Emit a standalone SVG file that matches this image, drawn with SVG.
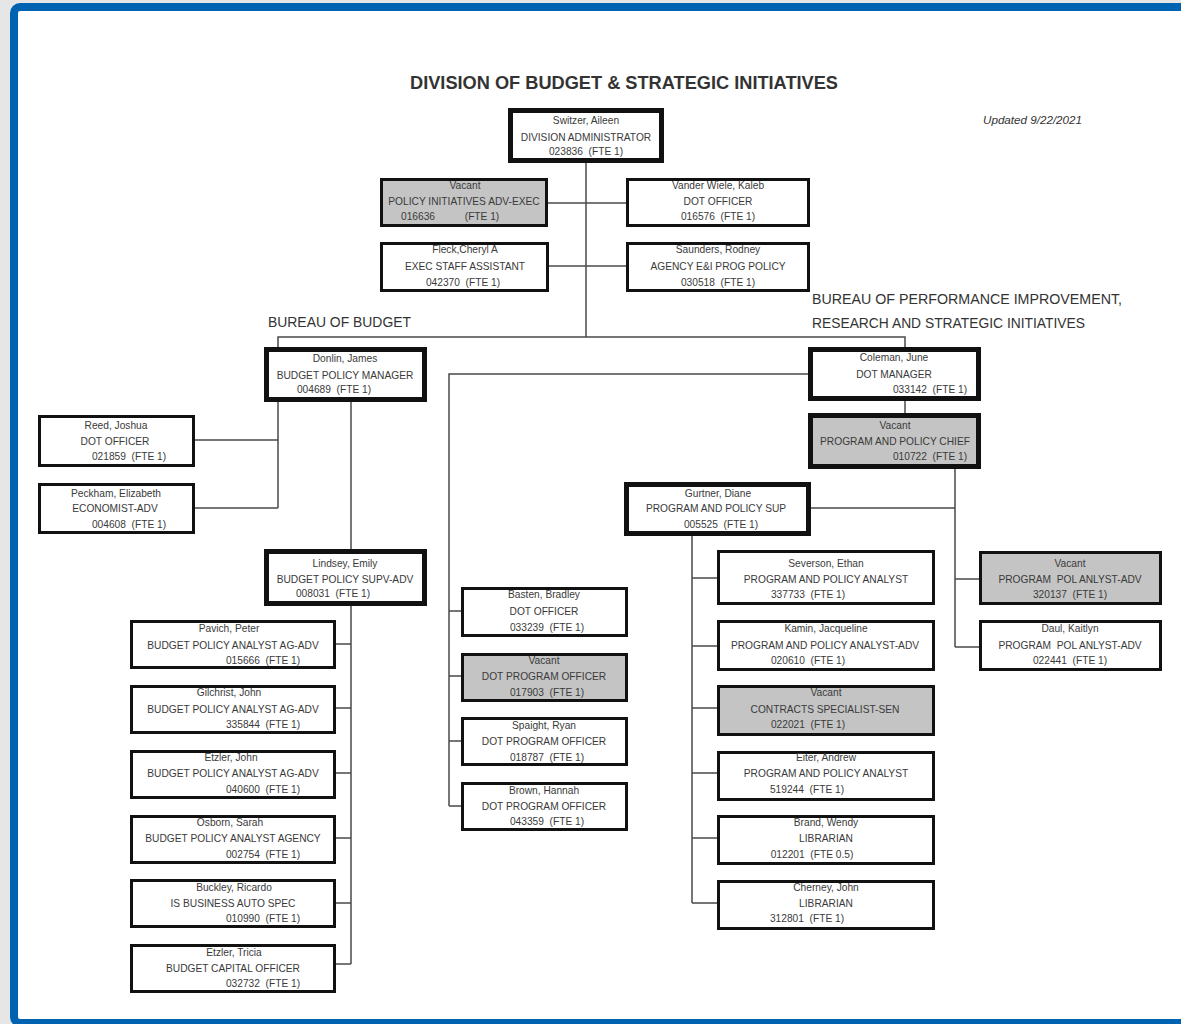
<svg xmlns="http://www.w3.org/2000/svg" width="1181" height="1024" viewBox="0 0 1181 1024">
<defs>
<style>
.box{fill:#fff;stroke:#111;stroke-width:3}
.thick{stroke-width:5}
.vac{fill:#c4c4c4}
.t{font-family:"Liberation Sans",Arial,sans-serif;font-size:10.2px;fill:#3a3a3a;text-anchor:middle;white-space:pre}
.c{stroke:#4a4a4a;stroke-width:1.5;fill:none}
.hd{font-family:"Liberation Sans",Arial,sans-serif;fill:#333}
</style>
</defs>
<rect x="0" y="0" width="1181" height="1024" fill="#e6e6e6"/>
<rect x="14" y="7" width="1200" height="1016" rx="6" fill="#fff" stroke="#0063b1" stroke-width="8"/>

<text class="hd" x="410" y="89" font-size="17.5" font-weight="bold" fill="#222" textLength="428" lengthAdjust="spacingAndGlyphs">DIVISION OF BUDGET &amp; STRATEGIC INITIATIVES</text>
<text class="hd" x="983" y="124" font-size="10.5" font-style="italic" textLength="99" lengthAdjust="spacingAndGlyphs">Updated 9/22/2021</text>
<text class="hd" x="268" y="327" font-size="14" textLength="143" lengthAdjust="spacingAndGlyphs">BUREAU OF BUDGET</text>
<text class="hd" x="812" y="304" font-size="14" textLength="310" lengthAdjust="spacingAndGlyphs">BUREAU OF PERFORMANCE IMPROVEMENT,</text>
<text class="hd" x="812" y="328" font-size="14" textLength="273" lengthAdjust="spacingAndGlyphs">RESEARCH AND STRATEGIC INITIATIVES</text>

<g id="connectors">
<path class="c" d="M586 163 V337"/>
<path class="c" d="M548 203 H626"/>
<path class="c" d="M549 266 H626"/>
<path class="c" d="M278 348 V337 H905 V348"/>
<path class="c" d="M278 402 V508 M195 440 H278 M195 508 H278"/>
<path class="c" d="M351 402 V549"/>
<path class="c" d="M351 606 V964 M336 644 H351 M336 708 H351 M336 773 H351 M336 838 H351 M336 903 H351 M336 964 H351"/>
<path class="c" d="M808 374 H449 V806 M449 611 H461 M449 676 H461 M449 741 H461 M449 806 H461"/>
<path class="c" d="M905 401 V413"/>
<path class="c" d="M955 469 V647 M811 508 H955 M955 579 H979 M955 647 H979"/>
<path class="c" d="M692 536 V903 M692 578 H717 M692 646 H717 M692 708 H717 M692 773 H717 M692 838 H717 M692 903 H717"/>
</g>

<g id="n-switzer">
<rect class="box thick" x="510.5" y="110.5" width="151" height="50"/>
<text class="t" x="586" y="124">Switzer, Aileen</text>
<text class="t" x="586" y="141">DIVISION ADMINISTRATOR</text>
<text class="t" x="586" y="155">023836  (FTE 1)</text>
</g>
<g id="n-policy-vacant">
<rect class="box vac" x="381.5" y="179.5" width="165" height="46"/>
<text class="t" x="465" y="189">Vacant</text>
<text class="t" x="464" y="205">POLICY INITIATIVES ADV-EXEC</text>
<text class="t" x="418" y="220">016636</text>
<text class="t" x="482" y="220">(FTE 1)</text>
</g>
<g id="n-vanderwiele">
<rect class="box" x="627.5" y="179.5" width="181" height="46"/>
<text class="t" x="718" y="189">Vander Wiele, Kaleb</text>
<text class="t" x="718" y="205">DOT OFFICER</text>
<text class="t" x="718" y="220">016576  (FTE 1)</text>
</g>
<g id="n-fleck">
<rect class="box" x="381.5" y="243.5" width="166" height="47"/>
<text class="t" x="465" y="253">Fleck,Cheryl A</text>
<text class="t" x="465" y="270">EXEC STAFF ASSISTANT</text>
<text class="t" x="463" y="286">042370  (FTE 1)</text>
</g>
<g id="n-saunders">
<rect class="box" x="627.5" y="243.5" width="181" height="47"/>
<text class="t" x="718" y="253">Saunders, Rodney</text>
<text class="t" x="718" y="270">AGENCY E&amp;I PROG POLICY</text>
<text class="t" x="718" y="286">030518  (FTE 1)</text>
</g>

<g id="n-donlin">
<rect class="box thick" x="266.5" y="349.5" width="158" height="50"/>
<text class="t" x="345" y="362">Donlin, James</text>
<text class="t" x="345" y="379">BUDGET POLICY MANAGER</text>
<text class="t" x="334" y="393">004689  (FTE 1)</text>
</g>
<g id="n-reed">
<rect class="box" x="39.5" y="416.5" width="154" height="49"/>
<text class="t" x="116" y="429">Reed, Joshua</text>
<text class="t" x="115" y="445">DOT OFFICER</text>
<text class="t" x="129" y="460">021859  (FTE 1)</text>
</g>
<g id="n-peckham">
<rect class="box" x="39.5" y="484.5" width="154" height="48"/>
<text class="t" x="116" y="497">Peckham, Elizabeth</text>
<text class="t" x="115" y="512">ECONOMIST-ADV</text>
<text class="t" x="129" y="528">004608  (FTE 1)</text>
</g>
<g id="n-lindsey">
<rect class="box thick" x="266.5" y="551.5" width="158" height="52"/>
<text class="t" x="345" y="567">Lindsey, Emily</text>
<text class="t" x="345" y="583">BUDGET POLICY SUPV-ADV</text>
<text class="t" x="333" y="597">008031  (FTE 1)</text>
</g>

<g id="n-pavich">
<rect class="box" x="131.5" y="621.5" width="203" height="46"/>
<text class="t" x="229" y="632">Pavich, Peter</text>
<text class="t" x="233" y="649">BUDGET POLICY ANALYST AG-ADV</text>
<text class="t" x="263" y="664">015666  (FTE 1)</text>
</g>
<g id="n-gilchrist">
<rect class="box" x="131.5" y="686.5" width="203" height="46"/>
<text class="t" x="229" y="696">Gilchrist, John</text>
<text class="t" x="233" y="713">BUDGET POLICY ANALYST AG-ADV</text>
<text class="t" x="263" y="728">335844  (FTE 1)</text>
</g>
<g id="n-etzler-john">
<rect class="box" x="131.5" y="751.5" width="203" height="46"/>
<text class="t" x="231" y="761">Etzler, John</text>
<text class="t" x="233" y="777">BUDGET POLICY ANALYST AG-ADV</text>
<text class="t" x="263" y="793">040600  (FTE 1)</text>
</g>
<g id="n-osborn">
<rect class="box" x="131.5" y="816.5" width="203" height="46"/>
<text class="t" x="230" y="826">Osborn, Sarah</text>
<text class="t" x="233" y="842">BUDGET POLICY ANALYST AGENCY</text>
<text class="t" x="263" y="858">002754  (FTE 1)</text>
</g>
<g id="n-buckley">
<rect class="box" x="131.5" y="880.5" width="203" height="46"/>
<text class="t" x="234" y="891">Buckley, Ricardo</text>
<text class="t" x="233" y="907">IS BUSINESS AUTO SPEC</text>
<text class="t" x="263" y="922">010990  (FTE 1)</text>
</g>
<g id="n-etzler-tricia">
<rect class="box" x="131.5" y="945.5" width="203" height="46"/>
<text class="t" x="234" y="956">Etzler, Tricia</text>
<text class="t" x="233" y="972">BUDGET CAPITAL OFFICER</text>
<text class="t" x="263" y="987">032732  (FTE 1)</text>
</g>

<g id="n-basten">
<rect class="box" x="462.5" y="588.5" width="164" height="47"/>
<text class="t" x="544" y="598">Basten, Bradley</text>
<text class="t" x="544" y="615">DOT OFFICER</text>
<text class="t" x="547" y="631">033239  (FTE 1)</text>
</g>
<g id="n-dot-vacant">
<rect class="box vac" x="462.5" y="654.5" width="164" height="46"/>
<text class="t" x="544" y="664">Vacant</text>
<text class="t" x="544" y="680">DOT PROGRAM OFFICER</text>
<text class="t" x="547" y="696">017903  (FTE 1)</text>
</g>
<g id="n-spaight">
<rect class="box" x="462.5" y="718.5" width="164" height="46"/>
<text class="t" x="544" y="729">Spaight, Ryan</text>
<text class="t" x="544" y="745">DOT PROGRAM OFFICER</text>
<text class="t" x="547" y="761">018787  (FTE 1)</text>
</g>
<g id="n-brown">
<rect class="box" x="462.5" y="783.5" width="164" height="46"/>
<text class="t" x="544" y="794">Brown, Hannah</text>
<text class="t" x="544" y="810">DOT PROGRAM OFFICER</text>
<text class="t" x="547" y="825">043359  (FTE 1)</text>
</g>

<g id="n-coleman">
<rect class="box thick" x="810.5" y="349.5" width="168" height="49"/>
<text class="t" x="894" y="361">Coleman, June</text>
<text class="t" x="894" y="378">DOT MANAGER</text>
<text class="t" x="930" y="393">033142  (FTE 1)</text>
</g>
<g id="n-chief-vacant">
<rect class="box thick vac" x="810.5" y="415.5" width="168" height="51"/>
<text class="t" x="895" y="429">Vacant</text>
<text class="t" x="895" y="445">PROGRAM AND POLICY CHIEF</text>
<text class="t" x="930" y="460">010722  (FTE 1)</text>
</g>
<g id="n-gurtner">
<rect class="box thick" x="626.5" y="484.5" width="182" height="49"/>
<text class="t" x="718" y="497">Gurtner, Diane</text>
<text class="t" x="716" y="512">PROGRAM AND POLICY SUP</text>
<text class="t" x="721" y="528">005525  (FTE 1)</text>
</g>

<g id="n-severson">
<rect class="box" x="718.5" y="551.5" width="215" height="52"/>
<text class="t" x="826" y="567">Severson, Ethan</text>
<text class="t" x="826" y="583">PROGRAM AND POLICY ANALYST</text>
<text class="t" x="808" y="598">337733  (FTE 1)</text>
</g>
<g id="n-kamin">
<rect class="box" x="718.5" y="621.5" width="215" height="48"/>
<text class="t" x="826" y="632">Kamin, Jacqueline</text>
<text class="t" x="825" y="649">PROGRAM AND POLICY ANALYST-ADV</text>
<text class="t" x="808" y="664">020610  (FTE 1)</text>
</g>
<g id="n-contracts-vacant">
<rect class="box vac" x="718.5" y="686.5" width="215" height="48"/>
<text class="t" x="826" y="696">Vacant</text>
<text class="t" x="825" y="713">CONTRACTS SPECIALIST-SEN</text>
<text class="t" x="808" y="728">022021  (FTE 1)</text>
</g>
<g id="n-eiter">
<rect class="box" x="718.5" y="752.5" width="215" height="47"/>
<text class="t" x="826" y="761">Eiter, Andrew</text>
<text class="t" x="826" y="777">PROGRAM AND POLICY ANALYST</text>
<text class="t" x="807" y="793">519244  (FTE 1)</text>
</g>
<g id="n-brand">
<rect class="box" x="718.5" y="816.5" width="215" height="47"/>
<text class="t" x="826" y="826">Brand, Wendy</text>
<text class="t" x="826" y="842">LIBRARIAN</text>
<text class="t" x="812" y="858">012201  (FTE 0.5)</text>
</g>
<g id="n-cherney">
<rect class="box" x="718.5" y="881.5" width="215" height="47"/>
<text class="t" x="826" y="891">Cherney, John</text>
<text class="t" x="826" y="907">LIBRARIAN</text>
<text class="t" x="807" y="922">312801  (FTE 1)</text>
</g>

<g id="n-pol-vacant">
<rect class="box vac" x="980.5" y="552.5" width="180" height="51"/>
<text class="t" x="1070" y="567">Vacant</text>
<text class="t" x="1070" y="583">PROGRAM  POL ANLYST-ADV</text>
<text class="t" x="1070" y="598">320137  (FTE 1)</text>
</g>
<g id="n-daul">
<rect class="box" x="980.5" y="621.5" width="180" height="48"/>
<text class="t" x="1070" y="632">Daul, Kaitlyn</text>
<text class="t" x="1070" y="649">PROGRAM  POL ANLYST-ADV</text>
<text class="t" x="1070" y="664">022441  (FTE 1)</text>
</g>
</svg>
